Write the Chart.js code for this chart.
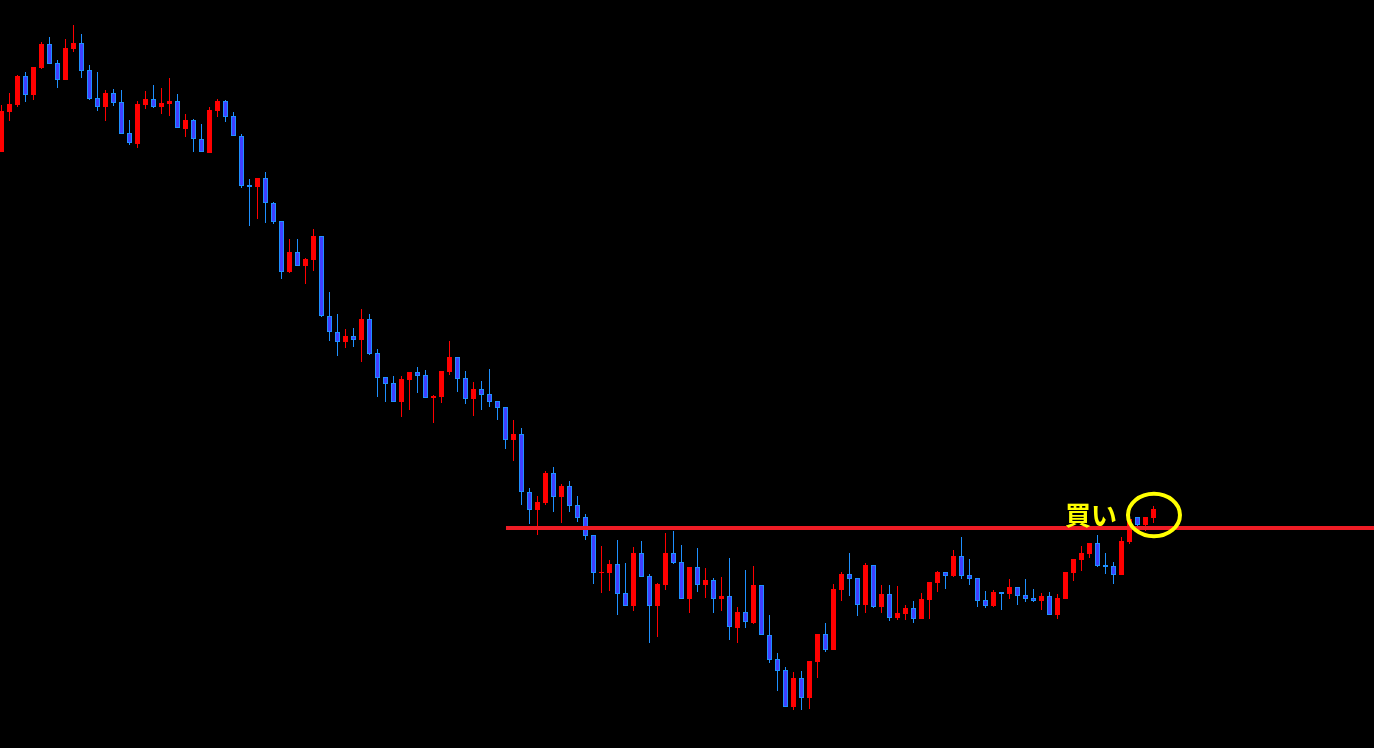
<!DOCTYPE html>
<html>
<head>
<meta charset="utf-8">
<script src="https://cdn.jsdelivr.net/npm/chart.js@4/dist/chart.umd.min.js"></script>
<style>
html,body{margin:0;padding:0;background:#000;overflow:hidden;}
canvas{display:block;}
</style>
</head>
<body>
<canvas id="c" width="1374" height="748"></canvas>
<script>
// OHLC values (arbitrary price units)
const opens = [596,636,643,672,653,680,704,685,668,699,705,678,650,641,655,646,615,604,643,649,641,644,647,619,628,609,595,637,647,632,
612,563,561,570,545,527,476,496,482,488,512,432,416,406,412,408,429,395,371,365,346,368,376,373,350,351,376,391,370,349,
359,354,347,341,308,314,256,238,245,275,251,262,243,231,213,175,175,184,155,142,195,172,142,163,195,186,149,181,163,168,
149,152,120,136,125,163,113,89,78,41,70,50,86,114,98,158,174,170,143,183,141,154,130,134,140,129,148,165,176,172,
192,173,170,148,142,156,154,161,153,150,147,152,133,149,175,188,194,205,183,182,173,206,231,223,230];
const highs = [643,655,673,676,681,706,711,688,709,723,714,683,676,658,659,658,628,647,657,663,660,670,654,634,629,624,641,649,648,636,
614,569,570,576,546,527,509,509,490,519,512,456,434,419,420,439,434,399,371,372,372,376,381,378,353,377,407,391,377,366,
367,379,347,341,328,320,260,252,277,281,264,267,252,234,213,202,188,208,185,201,207,174,165,215,217,203,181,200,180,170,
171,190,141,178,182,163,133,95,81,76,77,87,114,125,164,176,195,170,185,183,163,163,162,143,147,155,166,177,176,198,
211,189,170,157,158,156,169,161,169,159,155,156,154,176,189,202,205,213,195,186,211,229,231,231,242];
const lows = [596,627,641,646,648,679,684,660,668,696,670,648,637,627,642,614,603,600,639,640,634,632,620,611,596,596,595,631,626,612,
560,522,529,525,524,469,475,482,464,477,431,407,392,400,401,386,393,351,346,346,331,338,355,350,325,345,373,356,344,332,
338,341,328,299,287,243,224,213,243,236,225,236,226,208,164,155,157,133,142,137,171,105,111,158,184,149,135,156,150,135,
137,108,105,120,124,113,85,57,41,38,38,39,70,96,98,147,152,132,135,140,135,127,128,128,125,129,129,156,159,171,
169,163,141,140,141,138,149,143,146,146,138,133,129,149,167,177,190,181,174,164,173,204,221,217,225];
const closes = [637,644,672,653,681,704,684,668,700,705,677,649,641,655,645,614,605,644,649,641,645,647,620,628,609,596,638,647,631,612,
562,561,570,545,526,476,496,482,489,512,432,416,406,412,408,429,394,370,364,346,369,376,372,350,352,377,391,369,349,359,
353,346,340,308,314,256,238,246,275,251,262,242,230,212,175,176,184,154,142,195,171,142,164,195,185,149,181,163,168,149,
152,121,136,126,163,113,88,77,41,70,50,87,114,98,159,174,169,143,183,141,154,130,135,140,129,149,166,176,172,192,
172,169,147,142,156,154,161,152,149,147,152,133,150,176,189,195,205,182,181,173,207,229,223,231,239];

// support / resistance level and annotations
const levelValue = 220;
const levelStartIndex = 63.06;
const markIndex = 144.06, markValue = 233;
const labelText = '買い';
const labelIndex = 132.94, labelValue = 233;

const RED = '#FF0000', BLUE_FILL = '#4040FF', BLUE_EDGE = '#1E90FF';
const idx = opens.map((_, i) => i);
const isUp = i => closes[i] >= opens[i];

const bodies = idx.map(i => ({x: i, y: [opens[i], closes[i]]}));
const wicks = idx.map(i => ({x: i, y: [lows[i], highs[i]]}));

const xMin = -0.1875, xMax = 171.5625;

const annot = {
  id: 'annot',
  afterDatasetsDraw(chart) {
    const {ctx, scales: {x, y}} = chart;
    ctx.save();
    // yellow ellipse
    ctx.beginPath();
    ctx.ellipse(x.getPixelForValue(markIndex), y.getPixelForValue(markValue), 26, 21.3, 0, 0, Math.PI * 2);
    ctx.lineWidth = 4;
    ctx.strokeStyle = '#FFFF00';
    ctx.stroke();
    // label
    ctx.fillStyle = '#FFFF00';
    ctx.font = 'bold 26px "Noto Sans CJK JP", "Noto Sans CJK SC", sans-serif';
    ctx.textAlign = 'left';
    ctx.textBaseline = 'middle';
    ctx.fillText(labelText, x.getPixelForValue(labelIndex), y.getPixelForValue(labelValue));
    ctx.restore();
  }
};

new Chart(document.getElementById('c'), {
  type: 'bar',
  data: {
    datasets: [
      {
        type: 'line',
        data: [{x: levelStartIndex, y: levelValue}, {x: xMax, y: levelValue}],
        borderColor: '#EE1C25',
        borderWidth: 4,
        pointRadius: 0,
        fill: false,
        order: 0
      },
      {
        data: bodies,
        backgroundColor: ctx => isUp(ctx.dataIndex) ? RED : BLUE_FILL,
        borderColor: ctx => isUp(ctx.dataIndex) ? RED : BLUE_EDGE,
        borderWidth: ctx => isUp(ctx.dataIndex) ? 0 : 1,
        borderSkipped: false,
        barThickness: 5,
        inflateAmount: 0,
        grouped: false,
        order: 1
      },
      {
        data: wicks,
        backgroundColor: ctx => isUp(ctx.dataIndex) ? RED : BLUE_EDGE,
        borderWidth: 0,
        barThickness: 1,
        inflateAmount: 0,
        grouped: false,
        order: 2
      }
    ]
  },
  options: {
    responsive: false,
    animation: false,
    events: [],
    layout: {padding: 0},
    plugins: {legend: {display: false}, tooltip: {enabled: false}, title: {display: false}},
    scales: {
      x: {type: 'linear', min: xMin, max: xMax, display: false, offset: false},
      y: {type: 'linear', min: 0, max: 748, display: false}
    }
  },
  plugins: [annot]
});
</script>
</body>
</html>
